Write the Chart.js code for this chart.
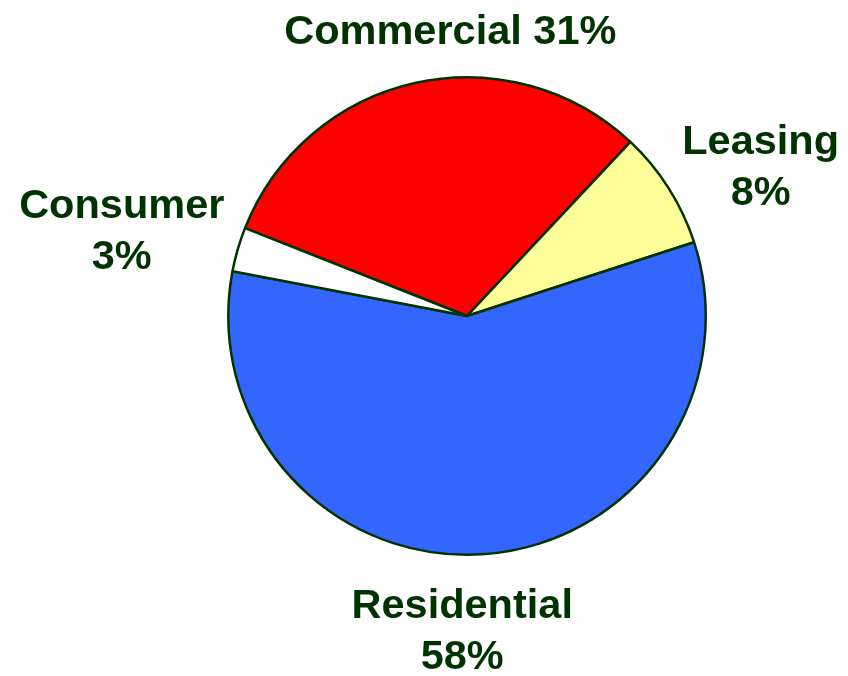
<!DOCTYPE html>
<html>
<head>
<meta charset="utf-8">
<script src="https://cdn.jsdelivr.net/npm/chart.js@4"></script>
<style>
  html, body { margin: 0; padding: 0; background: #ffffff; }
  #wrap { width: 848px; height: 676px; }
</style>
</head>
<body>
<div id="wrap"><canvas id="pie"></canvas></div>
<script>
const categories = ["Commercial", "Leasing", "Residential", "Consumer"];
const shares = [31, 8, 58, 3];
const sliceColors = ["#FF0000", "#FFFF99", "#3366FF", "#FFFFFF"];

const textColor = "#003300";

// label text per slice; commercial sits on one line above the pie
const labelLines = [
  [categories[0] + " " + shares[0] + "%"],
  [categories[1], shares[1] + "%"],
  [categories[2], shares[2] + "%"],
  [categories[3], shares[3] + "%"],
];

// where each label block goes, in units of the pie radius from its centre
// (x = text centre, y = first baseline)
const labelSpots = [
  { x: -0.07, y: -1.14 },
  { x: 1.23, y: -0.68 },
  { x: -0.02, y: 1.267 },
  { x: -1.446, y: -0.41 },
];

const outsideLabels = {
  id: "outsideLabels",
  afterDraw(chart) {
    const arc = chart.getDatasetMeta(0).data[0];
    if (!arc) return;
    const { x: cx, y: cy, outerRadius: r } = arc.getProps(["x", "y", "outerRadius"], true);
    const ctx = chart.ctx;
    ctx.save();
    ctx.fillStyle = textColor;
    ctx.font = "bold 41.5px 'Liberation Sans', Arial, sans-serif";
    ctx.textAlign = "center";
    ctx.textBaseline = "alphabetic";
    labelLines.forEach((lines, i) => {
      const spot = labelSpots[i];
      lines.forEach((line, j) => {
        ctx.fillText(line, cx + spot.x * r, cy + spot.y * r + j * 51);
      });
    });
    ctx.restore();
  },
};

new Chart(document.getElementById("pie"), {
  type: "pie",
  data: {
    labels: categories,
    datasets: [
      {
        data: shares,
        backgroundColor: sliceColors,
        borderColor: textColor,
        borderWidth: 2.5,
      },
    ],
  },
  options: {
    responsive: true,
    maintainAspectRatio: false,
    animation: false,
    rotation: -68.4,
    layout: { padding: { top: 76, bottom: 120, left: 227, right: 141 } },
    plugins: {
      legend: { display: false },
      tooltip: { enabled: false },
    },
  },
  plugins: [outsideLabels],
});
</script>
</body>
</html>
